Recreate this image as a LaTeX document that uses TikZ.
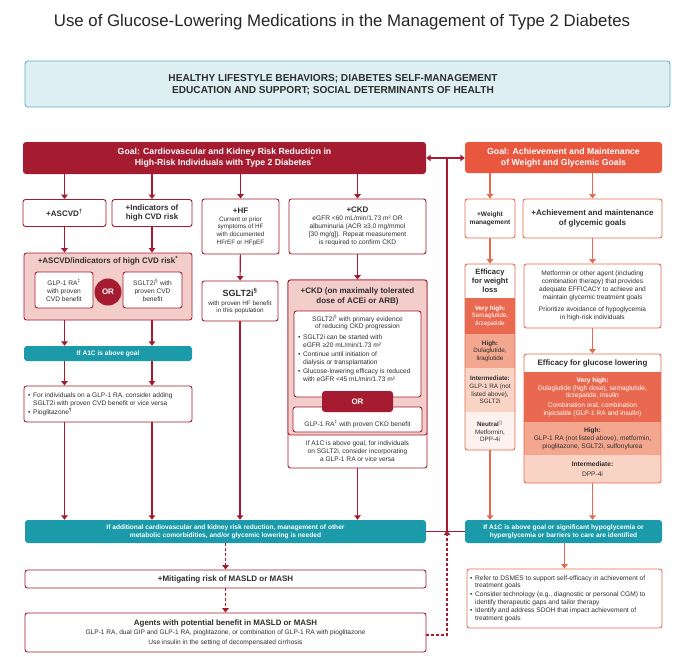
\documentclass[tikz,border=0pt]{standalone}
\usepackage{fontspec}
\setmainfont{Liberation Sans}
\usetikzlibrary{arrows.meta}
\definecolor{dr}{HTML}{A51C30}
\definecolor{orr}{HTML}{E8573E}
\definecolor{orl}{HTML}{E66A50}
\definecolor{tb}{HTML}{1B9AAA}
\definecolor{pk}{HTML}{F3CDC9}
\definecolor{tlf}{HTML}{DDEFF2}
\definecolor{tlb}{HTML}{5BB5C1}
\definecolor{vh}{HTML}{E8694F}
\definecolor{hi}{HTML}{F3A78E}
\definecolor{im}{HTML}{F9D4C4}
\definecolor{nt}{HTML}{FDF2ED}
\definecolor{tx}{HTML}{2E2E2E}
\newcommand{\fbody}{\fontsize{6.6}{7.9}\selectfont}
\newcommand{\fsmall}{\fontsize{6.3}{7.6}\selectfont}
\newcommand{\fhead}{\fontsize{8}{9.4}\selectfont\bfseries}
\newcommand{\fgoal}{\fontsize{8.7}{10.6}\selectfont\bfseries}
\newcommand{\fteal}{\fontsize{6.6}{7.9}\selectfont\bfseries}
\newenvironment{blist}{\begin{tabular}{@{}l@{\hspace{2.6pt}}l@{}}}{\end{tabular}}
\begin{document}
\begin{tikzpicture}[x=1pt,y=-1pt,
  every node/.style={inner sep=1.5pt, text=tx, align=center},
  rbox/.style={draw=dr, line width=0.9pt, rounded corners=2.5pt, fill=white},
  obox/.style={draw=orl, line width=0.9pt, rounded corners=2.5pt, fill=white},
  tealbar/.style={fill=tb, rounded corners=3pt, text=white, font=\fteal},
  arr/.style={draw=dr, line width=1.1pt, -{Triangle[width=6.5pt,length=4.5pt]}},
  ln/.style={draw=dr, line width=1.1pt},
  oarr/.style={draw=orl, line width=1.1pt, -{Triangle[width=6.5pt,length=4.5pt]}},
  darr/.style={arr, dash pattern=on 3pt off 2pt},
  band/.style={minimum width=#1, inner sep=0pt, font=\fsmall},
  btext/.style={anchor=west, inner sep=0pt, font=\fbody, align=left},
]
\useasboundingbox[fill=white] (0,0) rectangle (685,656);

% title and top box
\node[font=\fontsize{16.8}{20}\selectfont, text=black!85] (title) at (342,22) {Use of Glucose-Lowering Medications in the Management of Type 2 Diabetes};
\node[draw=tlb, fill=tlf, line width=0.9pt, rounded corners=3pt, minimum width=645pt, minimum height=46pt] (hl) at (347.5,84) {};
\node[font=\fontsize{10.1}{12.2}\selectfont\bfseries] (hlt) at (333,85) {HEALTHY LIFESTYLE BEHAVIORS; DIABETES SELF-MANAGEMENT\\EDUCATION AND SUPPORT; SOCIAL DETERMINANTS OF HEALTH};

% goals
\node[fill=dr, rounded corners=3pt, minimum width=403pt, minimum height=32pt, text=white, font=\fgoal] (goalL) at (224.5,158) {Goal: Cardiovascular and Kidney Risk Reduction in\\High-Risk Individuals with Type 2 Diabetes\textsuperscript{*}};
\node[fill=orr, rounded corners=3pt, minimum width=197pt, minimum height=31pt, text=white, font=\fgoal] (goalR) at (563.5,157.5) {Goal: Achievement and Maintenance\\of Weight and Glycemic Goals};

% left row 2
\node[rbox, minimum width=83pt, minimum height=27pt, font=\fhead] (asc) at (64.5,213) {+ASCVD\textsuperscript{†}};
\node[rbox, minimum width=80pt, minimum height=27pt, font=\fhead] (ind) at (152,213) {+Indicators of\\high CVD risk};
\node[rbox, minimum width=77pt, minimum height=55pt, font=\fsmall] (hf) at (240.5,226.5) {{\fhead +HF}\\[0.5pt]Current or prior\\symptoms of HF\\with documented\\HFrEF or HFpEF};
\node[rbox, minimum width=137pt, minimum height=55pt, font=\fbody] (ckd) at (357.5,226.5) {{\fhead +CKD}\\[0.5pt]eGFR <60 mL/min/1.73 m² OR\\albuminuria (ACR ≥3.0 mg/mmol\\{[}30 mg/g{]}). Repeat measurement\\is required to confirm CKD};

% right row 2
\node[obox, minimum width=50pt, minimum height=39pt, font=\fontsize{6.6}{7.9}\selectfont\bfseries] (wm) at (490,218.5) {+Weight\\management};
\node[obox, minimum width=139pt, minimum height=39pt, font=\fhead] (ach) at (592.5,218.5) {+Achievement and maintenance\\of glycemic goals};

% ASCVD region
\node[rbox, fill=pk, minimum width=168pt, minimum height=67pt] (ascreg) at (108,286.5) {};
\node[font=\fhead] (ascregt) at (108,261) {+ASCVD/indicators of high CVD risk\textsuperscript{*}};
\node[rbox, minimum width=58pt, minimum height=36pt, font=\fbody] (glp1) at (64,290) {GLP-1 RA\textsuperscript{‡}\\with proven\\CVD benefit};
\node[rbox, minimum width=59pt, minimum height=36pt, font=\fbody] (sglt) at (152.5,290) {SGLT2i\textsuperscript{§} with\\proven CVD\\benefit};
\node[circle, fill=dr, minimum size=27pt, inner sep=0pt, text=white, font=\fontsize{8}{9}\selectfont\bfseries] (or1) at (108,292) {OR};
\node[tealbar, minimum width=168pt, minimum height=15pt] (a1c) at (108,353.5) {If A1C is above goal};
\node[rbox, minimum width=168pt, minimum height=36pt] (bul) at (108,404) {};
\node[btext] (bult) at (28,404) {\begin{blist}•&For individuals on a GLP-1 RA, consider adding\\&SGLT2i with proven CVD benefit or vice versa\\[0.5pt]•&Pioglitazone\textsuperscript{¶}\end{blist}};

% HF column
\node[rbox, minimum width=76pt, minimum height=40pt, font=\fsmall] (sglthf) at (240,301) {{\fontsize{9}{10}\selectfont\bfseries SGLT2i\textsuperscript{§}}\\[1.5pt]with proven HF benefit\\in this population};

% CKD column
\node[rbox, minimum width=139pt, minimum height=188pt] (ckdout) at (357.5,374) {};
\node[rbox, fill=pk, minimum width=139pt, minimum height=155pt] (ckdreg) at (357.5,357.5) {};
\node[font=\fhead] (ckdregt) at (357.5,296.5) {+CKD (on maximally tolerated\\dose of ACEi or ARB)};
\node[rbox, minimum width=127pt, minimum height=86pt] (ckdin) at (357.5,354) {};
\node[font=\fbody] (ckdint) at (357.5,322.5) {SGLT2i\textsuperscript{§} with primary evidence\\of reducing CKD progression};
\node[btext] (ckdbul) at (298,359) {\begin{blist}•&SGLT2i can be started with\\&eGFR ≥20 mL/min/1.73 m²\\[1pt]•&Continue until initiation of\\&dialysis or transplantation\\[1pt]•&Glucose-lowering efficacy is reduced\\&with eGFR <45 mL/min/1.73 m²\end{blist}};
\node[rbox, minimum width=129pt, minimum height=25pt, font=\fbody] (ckdglp) at (357.5,419.5) {\strut\\GLP-1 RA\textsuperscript{‡} with proven CKD benefit};
\node[fill=dr, rounded corners=3pt, minimum width=71pt, minimum height=21pt, text=white, font=\fontsize{8}{9}\selectfont\bfseries] (or2) at (357.5,401.5) {OR};
\node[font=\fbody] (ckdtxt) at (357.5,451.5) {If A1C is above goal, for individuals\\on SGLT2i, consider incorporating\\a GLP-1 RA or vice versa};

% right column: weight efficacy
\begin{scope}
\clip[rounded corners=2.5pt] (465,264) rectangle (515,450);
\node[band=50pt, fill=white, minimum height=34pt, font=\fontsize{7.6}{9}\selectfont\bfseries] (ewlh) at (490,281) {Efficacy\\for weight\\loss};
\node[band=50pt, fill=vh, minimum height=36pt, text=white] (ewlvh) at (490,316) {\textbf{Very high:}\\Semaglutide,\\tirzepatide};
\node[band=50pt, fill=hi, minimum height=34pt] (ewlhi) at (490,351) {\textbf{High:}\\Dulaglutide,\\liraglutide};
\node[band=50pt, fill=im, minimum height=44pt] (ewlim) at (490,390) {\textbf{Intermediate:}\\GLP-1 RA (not\\listed above),\\SGLT2i};
\node[band=50pt, fill=nt, minimum height=38pt] (ewlnt) at (490,431) {\textbf{Neutral}\textsuperscript{$\|$}\\Metformin,\\DPP-4i};
\end{scope}
\node[draw=orl, line width=0.9pt, rounded corners=2.5pt, minimum width=50pt, minimum height=186pt] (ewl) at (490,357) {};

% achievement body
\node[obox, minimum width=137pt, minimum height=64pt, font=\fbody] (achb) at (592.5,296) {Metformin or other agent (including\\combination therapy) that provides\\adequate EFFICACY to achieve and\\maintain glycemic treatment goals\\[4pt]Prioritize avoidance of hypoglycemia\\in high-risk individuals};

% glucose efficacy
\begin{scope}
\clip[rounded corners=2.5pt] (524,354) rectangle (661,483);
\node[band=137pt, fill=white, minimum height=18pt, font=\fontsize{7.9}{9}\selectfont\bfseries] (eglh) at (592.5,363) {Efficacy for glucose lowering};
\node[band=137pt, fill=vh, minimum height=50pt, text=white, font=\fbody] (eglvh) at (592.5,397) {\textbf{Very high:}\\Dulaglutide (high dose), semaglutide,\\tirzepatide, insulin\\[1.5pt]Combination oral, combination\\injectable (GLP-1 RA and insulin)};
\node[band=137pt, fill=hi, minimum height=33pt, font=\fbody] (eglhi) at (592.5,438.5) {\textbf{High:}\\GLP-1 RA (not listed above), metformin,\\pioglitazone, SGLT2i, sulfonylurea};
\node[band=137pt, fill=im, minimum height=28pt, font=\fbody] (eglim) at (592.5,469) {\textbf{Intermediate:}\\[2pt]DPP-4i};
\end{scope}
\node[draw=orl, line width=0.9pt, rounded corners=2.5pt, minimum width=137pt, minimum height=129pt] (egl) at (592.5,418.5) {};

% teal bars
\node[tealbar, minimum width=401pt, minimum height=23pt] (tbL) at (225.5,531.5) {If additional cardiovascular and kidney risk reduction, management of other\\metabolic comorbidities, and/or glycemic lowering is needed};
\node[tealbar, minimum width=197pt, minimum height=23pt] (tbR) at (563.5,531.5) {If A1C is above goal or significant hypoglycemia or\\hyperglycemia or barriers to care are identified};

% bottom boxes
\node[rbox, minimum width=401pt, minimum height=18pt, font=\fhead] (mit) at (225.5,579) {+Mitigating risk of MASLD or MASH};
\node[rbox, minimum width=401pt, minimum height=39pt, font=\fbody] (agents) at (225.5,632.5) {{\fontsize{7.9}{9}\selectfont\bfseries Agents with potential benefit in MASLD or MASH}\\[1.5pt]GLP-1 RA, dual GIP and GLP-1 RA, pioglitazone, or combination of GLP-1 RA with pioglitazone\\[1.5pt]Use insulin in the setting of decompensated cirrhosis};
\node[obox, minimum width=195pt, minimum height=59pt] (rbox) at (564.5,598.5) {};
\node[btext] (rboxt) at (470,598.5) {\begin{blist}•&Refer to DSMES to support self-efficacy in achievement of\\&treatment goals\\[0.3pt]•&Consider technology (e.g., diagnostic or personal CGM) to\\&identify therapeutic gaps and tailor therapy\\[0.3pt]•&Identify and address SDOH that impact achievement of\\&treatment goals\end{blist}};

% coordinates
\coordinate (vtop) at (447,158);
\coordinate (junc) at (447,531.5);
\coordinate (dl1) at (447,635);

% connectors: left
\draw[dr, line width=1.1pt, {Triangle[width=6.5pt,length=4.5pt]}-{Triangle[width=6.5pt,length=4.5pt]}] (goalL.east) -- (goalL.east -| goalR.west);
\draw[ln] (vtop) -- (junc);
\draw[ln] (tbL.east) -- (tbR.west);
\draw[darr] (agents.east |- dl1) -- (dl1) -- ([yshift=1pt]junc);
\draw[arr] (goalL.south -| asc) -- (asc);
\draw[arr] (goalL.south -| ind) -- (ind);
\draw[arr] (goalL.south -| hf) -- (hf);
\draw[arr] (goalL.south -| ckd) -- (ckd);
\draw[arr] (asc) -- (asc |- ascreg.north);
\draw[arr] (ind) -- (ind |- ascreg.north);
\draw[arr] (ascreg.south -| asc) -- (asc |- a1c.north);
\draw[arr] (ascreg.south -| ind) -- (ind |- a1c.north);
\draw[arr] (a1c.south -| asc) -- (asc |- bul.north);
\draw[arr] (a1c.south -| ind) -- (ind |- bul.north);
\draw[arr] (bul.south -| asc) -- (asc |- tbL.north);
\draw[arr] (bul.south -| ind) -- (ind |- tbL.north);
\draw[arr] (hf) -- (sglthf);
\draw[arr] (sglthf) -- (sglthf |- tbL.north);
\draw[arr] (ckd) -- (ckd |- ckdreg.north);
\draw[arr] (ckdout) -- (ckdout |- tbL.north);
\draw[darr] (tbL.south -| mit) -- (mit);
\draw[darr] (mit) -- (agents);

% connectors: right
\draw[oarr] (goalR.south -| wm) -- (wm);
\draw[oarr] (goalR.south -| ach) -- (ach);
\draw[oarr] (wm) -- (wm |- ewl.north);
\draw[oarr] (ach) -- (achb);
\draw[oarr] (achb) -- (achb |- egl.north);
\draw[oarr] (ewl) -- (ewl |- tbR.north);
\draw[oarr] (egl) -- (egl |- tbR.north);
\draw[oarr] (tbR.south -| rbox) -- (rbox);
\end{tikzpicture}
\end{document}
